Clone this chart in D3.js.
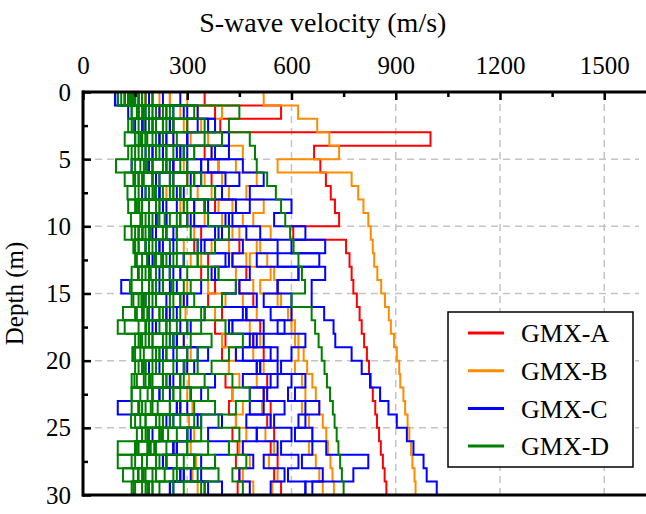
<!DOCTYPE html>
<html>
<head>
<meta charset="utf-8">
<script src="https://cdn.jsdelivr.net/npm/d3@7"></script>
<style>
  body { margin: 0; background: #fff; }
</style>
</head>
<body>
<div id="chart"></div>
<script>
// layer velocities (m/s), one value per 1 m layer from 0 to 30 m
const siteNames = ['GMX-A', 'GMX-B', 'GMX-C', 'GMX-D'];
const siteColors = ['#ff0000', '#ff8c00', '#0000ff', '#008000'];
const serif = 'Liberation Serif';

const profilesA = [
	[350, 570, 395, 1000, 665, 683, 699, 713, 725, 737, 605, 757, 767, 773, 778, 788, 796, 802, 809, 817, 823, 828, 834, 841, 846, 852, 857, 863, 868, 873],
	[250, 380, 300, 400, 350, 390, 370, 400, 380, 420, 400, 450, 430, 470, 450, 490, 470, 510, 490, 520, 510, 530, 520, 540, 530, 550, 540, 560, 550, 570],
	[180, 220, 260, 240, 280, 260, 300, 280, 320, 300, 340, 320, 360, 340, 380, 360, 400, 380, 410, 400, 420, 410, 430, 420, 440, 430, 445, 440, 450, 445]
];
const profilesB = [
	[520, 619, 674, 709, 737, 560, 773, 792, 807, 821, 828, 834, 838, 847, 858, 869, 880, 886, 895, 903, 910, 913, 922, 927, 934, 939, 944, 948, 954, 957],
	[250, 330, 290, 360, 320, 390, 350, 420, 390, 460, 430, 500, 480, 540, 510, 560, 600, 610, 620, 635, 645, 660, 670, 680, 690, 700, 705, 712, 718, 722],
	[220, 280, 340, 310, 370, 340, 400, 370, 430, 400, 450, 420, 470, 440, 490, 460, 500, 480, 510, 490, 520, 500, 530, 515, 540, 525, 550, 535, 560, 545],
	[180, 230, 200, 260, 230, 290, 260, 240, 280, 300, 270, 290, 310, 280, 300, 290, 295, 300, 290, 310, 295, 305, 300, 315, 305, 320, 310, 325, 315, 330],
	[300, 400, 380, 420, 460, 440, 500, 470, 520, 490, 540, 510, 530, 550, 560, 570, 590, 600, 610, 620, 610, 630, 640, 630, 650, 660, 650, 670, 680, 690],
	[160, 200, 250, 220, 270, 240, 300, 330, 290, 350, 320, 370, 340, 390, 360, 410, 380, 430, 400, 440, 420, 450, 430, 460, 440, 470, 450, 480, 460, 490]
];
const profilesC = [
	[170, 330, 380, 300, 420, 360, 450, 400, 480, 430, 510, 697, 560, 697, 658, 658, 694, 721, 726, 773, 802, 826, 855, 879, 903, 932, 951, 980, 989, 1018],
	[150, 210, 260, 230, 290, 250, 320, 280, 350, 310, 380, 340, 410, 370, 440, 400, 470, 430, 500, 460, 560, 600, 590, 640, 620, 660, 700, 821, 778, 640],
	[140, 260, 230, 300, 270, 340, 310, 380, 350, 420, 390, 460, 430, 480, 450, 500, 470, 520, 490, 540, 510, 560, 530, 580, 550, 600, 570, 620, 590, 640],
	[200, 180, 250, 220, 300, 260, 340, 290, 360, 320, 400, 350, 420, 380, 440, 400, 460, 420, 480, 440, 500, 460, 520, 480, 540, 500, 560, 520, 580, 540],
	[100, 130, 170, 150, 200, 180, 160, 220, 190, 240, 210, 180, 250, 220, 270, 240, 200, 280, 250, 300, 270, 230, 310, 280, 330, 300, 260, 340, 310, 360],
	[130, 290, 250, 220, 280, 240, 210, 270, 230, 300, 260, 220, 290, 250, 110, 280, 240, 300, 260, 330, 290, 250, 310, 270, 340, 300, 260, 320, 280, 350],
	[280, 160, 210, 260, 230, 190, 250, 220, 270, 240, 200, 260, 230, 280, 250, 210, 270, 240, 290, 260, 220, 280, 250, 100, 260, 300, 270, 240, 290, 260],
	[120, 220, 330, 300, 370, 340, 410, 380, 440, 410, 470, 560, 500, 620, 560, 520, 600, 560, 640, 600, 570, 640, 610, 680, 640, 610, 660, 630, 690, 660],
	[160, 240, 200, 170, 230, 300, 260, 220, 320, 280, 240, 330, 290, 250, 340, 300, 350, 310, 270, 360, 320, 380, 340, 300, 400, 360, 420, 380, 340, 400],
	[92, 190, 150, 210, 180, 140, 200, 170, 230, 190, 160, 220, 190, 250, 210, 180, 240, 200, 260, 230, 190, 250, 220, 270, 240, 200, 260, 230, 280, 250],
	[230, 300, 360, 420, 380, 460, 520, 480, 600, 550, 640, 600, 680, 620, 560, 600, 540, 580, 520, 560, 500, 540, 480, 520, 470, 500, 460, 490, 450, 480],
	[190, 210, 180, 240, 200, 260, 220, 180, 240, 210, 270, 230, 200, 260, 220, 290, 250, 210, 270, 240, 300, 260, 220, 280, 250, 310, 270, 230, 290, 250]
];
const profilesD = [
	[200, 450, 420, 480, 495, 500, 530, 555, 570, 582, 596, 606, 620, 630, 639, 600, 658, 668, 678, 687, 695, 702, 711, 719, 724, 730, 735, 740, 745, 750],
	[130, 240, 300, 180, 260, 150, 220, 310, 190, 270, 160, 250, 330, 210, 290, 180, 260, 340, 230, 300, 200, 280, 360, 250, 320, 230, 300, 380, 270, 340],
	[150, 180, 140, 200, 130, 95, 170, 210, 150, 190, 120, 180, 230, 160, 200, 140, 190, 100, 170, 220, 160, 200, 140, 180, 230, 170, 210, 100, 160, 200],
	[180, 210, 260, 230, 290, 250, 320, 280, 350, 300, 270, 330, 290, 360, 310, 280, 340, 300, 370, 330, 290, 350, 310, 380, 340, 300, 360, 320, 390, 350],
	[140, 160, 190, 170, 210, 180, 150, 200, 170, 220, 190, 160, 210, 180, 230, 200, 170, 220, 190, 240, 210, 180, 230, 200, 250, 220, 190, 240, 210, 260],
	[160, 200, 240, 210, 170, 230, 200, 250, 220, 180, 240, 210, 260, 230, 190, 250, 220, 270, 240, 200, 260, 230, 280, 250, 210, 270, 240, 290, 260, 220],
	[120, 155, 130, 165, 140, 175, 148, 128, 162, 138, 172, 150, 185, 158, 135, 168, 152, 182, 160, 142, 175, 148, 186, 162, 138, 170, 155, 184, 158, 145],
	[170, 260, 350, 400, 320, 280, 340, 380, 300, 360, 420, 380, 330, 390, 440, 400, 350, 410, 460, 420, 370, 430, 480, 440, 390, 450, 420, 470, 430, 460],
	[100, 140, 160, 120, 180, 140, 200, 160, 130, 190, 150, 210, 170, 140, 200, 160, 115, 180, 150, 210, 170, 140, 200, 160, 220, 180, 150, 210, 170, 190],
	[140, 190, 230, 270, 240, 300, 260, 230, 290, 250, 310, 270, 240, 300, 260, 320, 280, 250, 310, 270, 330, 290, 260, 320, 280, 340, 300, 270, 330, 290],
	[150, 250, 200, 150, 240, 200, 160, 260, 210, 170, 230, 190, 150, 250, 210, 170, 230, 190, 260, 220, 180, 240, 200, 160, 260, 220, 100, 240, 200, 170],
	[120, 320, 260, 350, 290, 240, 300, 260, 220, 280, 240, 200, 270, 230, 190, 260, 220, 180, 250, 210, 170, 240, 200, 160, 230, 190, 150, 220, 180, 140],
	[135, 170, 145, 185, 160, 200, 175, 150, 190, 165, 140, 180, 155, 195, 170, 145, 185, 160, 200, 175, 150, 190, 165, 140, 180, 155, 195, 170, 145, 185],
	[160, 140, 175, 150, 190, 165, 145, 180, 155, 200, 170, 150, 185, 160, 140, 175, 150, 190, 165, 145, 180, 155, 200, 170, 150, 185, 160, 140, 175, 150],
	[145, 230, 190, 160, 220, 185, 250, 205, 170, 235, 195, 160, 225, 190, 255, 210, 175, 240, 200, 165, 230, 195, 260, 215, 180, 245, 205, 170, 235, 200],
	[110, 175, 210, 180, 150, 200, 120, 190, 160, 215, 180, 145, 205, 170, 230, 190, 155, 120, 180, 150, 210, 175, 140, 195, 165, 225, 185, 150, 115, 180]
];
const xTicks = [0, 300, 600, 900, 1200, 1500];
const yTicks = [0, 5, 10, 15, 20, 25, 30];

const width = 646, height = 514;
const margin = { top: 92, left: 83, right: 7, bottom: 19 };
const plotW = width - margin.left - margin.right;
const plotH = height - margin.top - margin.bottom;

const svg = d3.select('#chart').append('svg')
	.attr('width', width)
	.attr('height', height)
	.attr('font-family', serif);

const x = d3.scaleLinear().domain([0, 1600]).range([0, plotW]);
const y = d3.scaleLinear().domain([0, 30]).range([0, plotH]);

const g = svg.append('g').attr('transform', `translate(${margin.left},${margin.top})`);

// grid
g.append('g').selectAll('line')
	.data(xTicks.slice(1))
	.enter().append('line')
	.attr('x1', d => x(d)).attr('x2', d => x(d))
	.attr('y1', 0).attr('y2', plotH)
	.attr('stroke', '#c4c4c4').attr('stroke-width', 1.5)
	.attr('stroke-dasharray', '7,5');
g.append('g').selectAll('line')
	.data(yTicks.slice(1, -1))
	.enter().append('line')
	.attr('x1', 0).attr('x2', plotW)
	.attr('y1', d => y(d)).attr('y2', d => y(d))
	.attr('stroke', '#c4c4c4').attr('stroke-width', 1.5)
	.attr('stroke-dasharray', '7,5');

// step profiles
const line = d3.line().x(d => x(d[0])).y(d => y(d[1]));
function stepPoints(vs) {
	let pts = [];
	vs.forEach((v, i) => { pts.push([v, i]); pts.push([v, i + 1]); });
	return pts;
}
const allSites = [profilesA, profilesB, profilesC, profilesD];
allSites.forEach((profiles, si) => {
	g.append('g').selectAll('path')
		.data(profiles)
		.enter().append('path')
		.attr('d', d => line(stepPoints(d)))
		.attr('fill', 'none')
		.attr('stroke', siteColors[si])
		.attr('stroke-width', 2);
});

// axes
const xAxis = d3.axisTop(x).tickValues(xTicks).tickSize(-8).tickPadding(18).tickFormat(d3.format('d'));
const xMinor = d3.axisTop(x).tickValues(d3.range(150, 1600, 300)).tickSize(-5).tickFormat('');
const yAxis = d3.axisLeft(y).tickValues(yTicks).tickSize(-8).tickPadding(12);
const yMinor = d3.axisLeft(y).tickValues(d3.range(2.5, 30, 5)).tickSize(-5).tickFormat('');

[xAxis, xMinor, yAxis, yMinor].forEach(a => {
	g.append('g').call(a).call(s => {
		s.attr('font-family', serif);
		s.select('.domain').remove();
		s.selectAll('line').attr('stroke', '#000').attr('stroke-width', 2.5);
		s.selectAll('text').attr('font-size', '25px').attr('fill', '#000');
	});
});
// frame lines
g.append('line').attr('x1', -1).attr('x2', plotW + margin.right).attr('y1', 0).attr('y2', 0)
	.attr('stroke', '#000').attr('stroke-width', 3);
g.append('line').attr('x1', -1).attr('x2', plotW + margin.right).attr('y1', plotH).attr('y2', plotH)
	.attr('stroke', '#000').attr('stroke-width', 3);
g.append('line').attr('x1', 0).attr('x2', 0).attr('y1', -1.5).attr('y2', plotH + 1.5)
	.attr('stroke', '#000').attr('stroke-width', 3);

// titles
svg.append('text')
	.attr('x', margin.left + x(690))
	.attr('y', 32)
	.attr('text-anchor', 'middle')
	.attr('font-size', '28px')
	.text('S-wave velocity (m/s)');
svg.append('text')
	.attr('transform', `translate(15,${margin.top + plotH / 2}) rotate(-90)`)
	.attr('text-anchor', 'middle')
	.attr('dy', '0.32em')
	.attr('font-size', '25px')
	.text('Depth (m)');

// legend
const lg = svg.append('g').attr('transform', 'translate(448,312)');
lg.append('rect').attr('width', 185).attr('height', 155)
	.attr('fill', '#fff').attr('stroke', '#000').attr('stroke-width', 1.5);
siteNames.forEach((n, i) => {
	let ly = 21 + i * 37.7;
	lg.append('line').attr('x1', 20).attr('x2', 56).attr('y1', ly).attr('y2', ly)
		.attr('stroke', siteColors[i]).attr('stroke-width', 3);
	lg.append('text').attr('x', 73).attr('y', ly).attr('dy', '0.35em')
		.attr('font-size', '26px').text(n);
});
</script>
</body>
</html>
